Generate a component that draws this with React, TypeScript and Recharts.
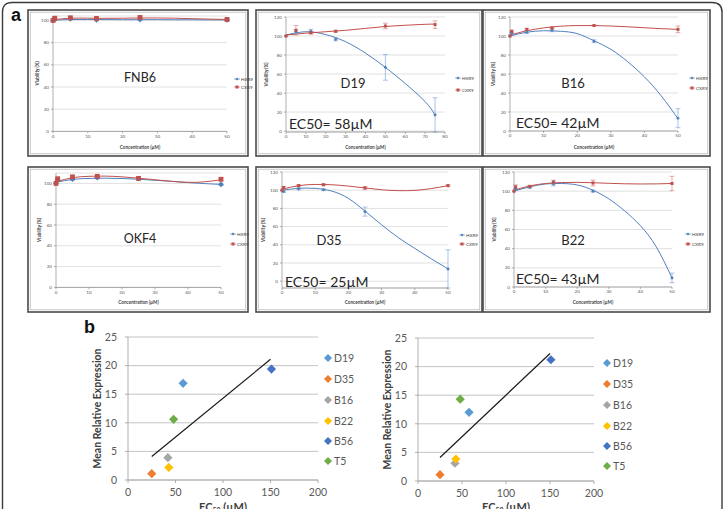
import React from 'react';
import { ComposedChart, Line, XAxis, YAxis, CartesianGrid, ErrorBar, ScatterChart, Scatter } from 'recharts';

// ---------- data: part a (viability %) ----------
const seriesNames = ['HXR9', 'CXR9'];
const concStd = [0, 0.5, 5, 12.5, 25, 50];
const concD19 = [0, 5, 12.5, 25, 50, 75];

// measured points (with error bars)
const fnb6Hxr9 = [100, 100.8, 101.5, 100.6, 100.8, 100.5];
const fnb6Hxr9Err = [0, 0.5, 0.5, 0.5, 0.5, 0.5];
const fnb6Cxr9 = [100, 102, 102.4, 101.8, 102.7, 100.9];
const fnb6Cxr9Err = [0, 0.5, 0.5, 0.5, 0.5, 0.5];

const d19Hxr9 = [100, 104.5, 105, 96.5, 67, 17];
const d19Hxr9Err = [0, 2, 2, 1.5, 13.5, 18];
const d19Cxr9 = [100, 106, 103.5, 105, 110.5, 112];
const d19Cxr9Err = [0, 5, 1.5, 1, 3, 4];

const b16Hxr9 = [100, 103, 104, 106, 94.5, 13.5];
const b16Hxr9Err = [0, 1, 1.5, 1.5, 1.5, 10];
const b16Cxr9 = [100, 105, 107, 108.5, 111, 107];
const b16Cxr9Err = [0, 1, 1, 1, 0.5, 3.5];

const okf4Hxr9 = [100, 103.5, 104, 105.5, 104.5, 99];
const okf4Hxr9Err = [0, 1, 1, 1, 1, 1];
const okf4Cxr9 = [100, 104.5, 106.3, 106.8, 104.8, 104];
const okf4Cxr9Err = [0, 1, 1, 1, 1, 1.5];

const d35Hxr9 = [100, 98.5, 101.5, 100.5, 76.5, 13.5];
const d35Hxr9Err = [0, 1, 1, 1, 5, 21];
const d35Cxr9 = [100, 103, 105, 106, 102.5, 105];
const d35Cxr9Err = [0, 1, 1, 1, 1.5, 1];

const b22Hxr9 = [100, 102, 104, 107.5, 100, 9.5];
const b22Hxr9Err = [0, 1, 1, 2, 1, 5];
const b22Cxr9 = [100, 104.5, 105, 109.5, 108.5, 108];
const b22Cxr9Err = [0, 2, 1, 2, 3, 7.5];

// fitted curves
const curveX50 = [0, 5, 10, 15, 20, 25, 30, 35, 40, 45, 50];
const curveX75 = [0, 10, 20, 30, 40, 50, 60, 70, 75];
const fnb6Hxr9Fit = [100.3, 100.8, 100.9, 100.8, 100.7, 100.7, 100.7, 100.6, 100.6, 100.5, 100.5];
const fnb6Cxr9Fit = [100.6, 102.0, 102.0, 101.9, 102.0, 102.2, 102.2, 102.0, 101.6, 101.2, 100.9];
const d19Hxr9Fit = [101, 104.5, 101.5, 94, 82, 67, 50, 31, 17];
const d19Cxr9Fit = [101, 103, 104.5, 106, 108, 110, 111.3, 112.3, 112.5];
const b16Hxr9Fit = [100, 104, 105.5, 105, 102.5, 95, 86, 73, 57, 37, 13];
const b16Cxr9Fit = [101, 105.5, 108.5, 110.3, 111, 111, 110.5, 109.7, 108.7, 107.7, 107];
const okf4Hxr9Fit = [101, 103.8, 104.8, 105, 104.7, 104, 103, 102, 100.8, 99.8, 99];
const okf4Cxr9Fit = [101.5, 105.5, 106.8, 107, 106.3, 105, 103.5, 102, 101, 101.5, 103.5];
const d35Hxr9Fit = [100, 102, 102, 99, 91, 77, 62, 48, 36, 24.5, 13.5];
const d35Cxr9Fit = [101, 105, 106.3, 106, 104.5, 102.5, 100.5, 99.5, 99.8, 101.8, 105];
const b22Hxr9Fit = [100, 104.5, 107.5, 108, 106.5, 101, 92, 79.5, 64, 42, 9.5];
const b22Cxr9Fit = [101, 105.5, 108, 109, 109.2, 108.8, 108.2, 107.7, 107.5, 107.6, 108];

const tick0to100 = [0, 20, 40, 60, 80, 100];
const tick0to120 = [0, 20, 40, 60, 80, 100, 120];
const tickConc50 = [0, 10, 20, 30, 40, 50];
const tickConc80 = [0, 10, 20, 30, 40, 50, 60, 70, 80];

// ---------- data: part b (mean relative expression vs EC50) ----------
const cellLines = ['D19', 'D35', 'B16', 'B22', 'B56', 'T5'];
const ec50Values = [58, 25, 42, 43, 151, 48];
const exprLeft = [16.9, 1.1, 3.9, 2.2, 19.4, 10.6];
const exprRight = [12.0, 1.1, 3.1, 3.85, 21.2, 14.3];
const trendLeftX = [25, 150];
const trendLeftY = [4.1, 21.1];
const trendRightX = [25, 150];
const trendRightY = [4.1, 22.3];
const ecTicks = [0, 50, 100, 150, 200];
const exprTicks = [0, 5, 10, 15, 20, 25];

// ---------- styles ----------
const FONT = 'Lato, "Open Sans", sans-serif';
const BLUE = '#4F81BD';
const RED = '#C0504D';
const lineColors = ['#5B9BD5', '#ED7D31', '#A5A5A5', '#FFC000', '#4472C4', '#70AD47'];

type Plot = { l: number; t: number; r: number; b: number };
type Box = { l: number; t: number; r: number; b: number };

function frameFor(plot: Plot, yw: number, xh: number, pad = 6, padR = 6) {
  return {
    left: plot.l - yw - pad,
    top: plot.t - pad,
    width: plot.r - plot.l + yw + pad + padR,
    height: plot.b - plot.t + xh + 2 * pad,
    margin: { top: pad, right: padR, bottom: pad, left: pad },
  };
}

type Panel = {
  name: string;
  ec50?: string;
  conc: number[];
  h: number[]; he: number[]; c: number[]; ce: number[];
  fitX: number[]; hFit: number[]; cFit: number[];
  box: Box; plot: Plot;
  xMax: number; xTicks: number[]; yDomain: number[]; yTicks: number[];
  labelPos: number[]; ecPos?: number[]; legendPos: number[]; yTitleX: number; xTitleY: number;
  marker: number; labelSize: number;
};

const panels: Panel[] = [
  { name: 'FNB6', conc: concStd, h: fnb6Hxr9, he: fnb6Hxr9Err, c: fnb6Cxr9, ce: fnb6Cxr9Err,
    fitX: curveX50, hFit: fnb6Hxr9Fit, cFit: fnb6Cxr9Fit,
    box: { l: 28, t: 10, r: 248, b: 156 }, plot: { l: 53, t: 15.6, r: 227, b: 131 },
    xMax: 50, xTicks: tickConc50, yDomain: [0, 104], yTicks: tick0to100,
    labelPos: [140, 77], legendPos: [237, 79, 87], yTitleX: 37, xTitleY: 147, marker: 2.4, labelSize: 12.5 },
  { name: 'D19', ec50: 'EC50= 58µM', conc: concD19, h: d19Hxr9, he: d19Hxr9Err, c: d19Cxr9, ce: d19Cxr9Err,
    fitX: curveX75, hFit: d19Hxr9Fit, cFit: d19Cxr9Fit,
    box: { l: 256, t: 10, r: 482, b: 156 }, plot: { l: 286, t: 17, r: 445, b: 132 },
    xMax: 80, xTicks: tickConc80, yDomain: [0, 120], yTicks: tick0to120,
    labelPos: [353, 83], ecPos: [289, 123], legendPos: [458, 78, 90], yTitleX: 266, xTitleY: 147, marker: 1.5, labelSize: 13 },
  { name: 'B16', ec50: 'EC50= 42µM', conc: concStd, h: b16Hxr9, he: b16Hxr9Err, c: b16Cxr9, ce: b16Cxr9Err,
    fitX: curveX50, hFit: b16Hxr9Fit, cFit: b16Cxr9Fit,
    box: { l: 483, t: 10, r: 710, b: 156 }, plot: { l: 510, t: 17, r: 678, b: 131 },
    xMax: 50, xTicks: tickConc50, yDomain: [0, 120], yTicks: tick0to120,
    labelPos: [573, 83], ecPos: [516, 122], legendPos: [692, 78, 88], yTitleX: 493, xTitleY: 147, marker: 1.5, labelSize: 13 },
  { name: 'OKF4', conc: concStd, h: okf4Hxr9, he: okf4Hxr9Err, c: okf4Cxr9, ce: okf4Cxr9Err,
    fitX: curveX50, hFit: okf4Hxr9Fit, cFit: okf4Cxr9Fit,
    box: { l: 28, t: 167, r: 248, b: 312 }, plot: { l: 56, t: 172.6, r: 221, b: 287 },
    xMax: 50, xTicks: tickConc50, yDomain: [0, 110], yTicks: tick0to100,
    labelPos: [140, 238], legendPos: [233, 234, 244], yTitleX: 39, xTitleY: 302, marker: 2.4, labelSize: 12.5 },
  { name: 'D35', ec50: 'EC50= 25µM', conc: concStd, h: d35Hxr9, he: d35Hxr9Err, c: d35Cxr9, ce: d35Cxr9Err,
    fitX: curveX50, hFit: d35Hxr9Fit, cFit: d35Cxr9Fit,
    box: { l: 256, t: 167, r: 482, b: 312 }, plot: { l: 282, t: 172, r: 448, b: 288 },
    xMax: 50, xTicks: tickConc50, yDomain: [0, 120], yTicks: tick0to120,
    labelPos: [329, 240], ecPos: [285, 281], legendPos: [462, 235, 244], yTitleX: 263, xTitleY: 302, marker: 1.5, labelSize: 13 },
  { name: 'B22', ec50: 'EC50= 43µM', conc: concStd, h: b22Hxr9, he: b22Hxr9Err, c: b22Cxr9, ce: b22Cxr9Err,
    fitX: curveX50, hFit: b22Hxr9Fit, cFit: b22Cxr9Fit,
    box: { l: 483, t: 167, r: 710, b: 312 }, plot: { l: 514, t: 172, r: 672, b: 287 },
    xMax: 50, xTicks: tickConc50, yDomain: [0, 120], yTicks: tick0to120,
    labelPos: [573, 240], ecPos: [516, 278], legendPos: [688, 234, 244], yTitleX: 494, xTitleY: 302, marker: 1.5, labelSize: 13 },
];

type ExprPanel = {
  expr: number[]; trendX: number[]; trendY: number[];
  plot: Plot; legendX: number; legendY: number[]; yTitleX: number; xTitleY: number;
};

const exprPanels: ExprPanel[] = [
  { expr: exprLeft, trendX: trendLeftX, trendY: trendLeftY, plot: { l: 128, t: 337, r: 318, b: 480 },
    legendX: 328, legendY: [358, 379, 400, 421, 441, 461], yTitleX: 97, xTitleY: 511 },
  { expr: exprRight, trendX: trendRightX, trendY: trendRightY, plot: { l: 418, t: 338, r: 594, b: 481 },
    legendX: 607, legendY: [363, 384, 405, 426, 446, 466], yTitleX: 387, xTitleY: 511 },
];

function diamondPath(cx: number, cy: number, s: number) {
  return `M${cx},${cy - s}L${cx + s},${cy}L${cx},${cy + s}L${cx - s},${cy}Z`;
}

function ViabilityChart({ p }: { p: Panel }) {
  const points = p.conc.map((x, i) => ({ x, h: p.h[i], he: p.he[i], c: p.c[i], ce: p.ce[i] }));
  const fit = p.fitX.map((x, i) => ({ x, hf: p.hFit[i], cf: p.cFit[i] }));
  const yw = 14;
  const xh = 10;
  const f = frameFor(p.plot, yw, xh);
  const tickStyle = { fontSize: 4.6, fill: '#595959', fontFamily: FONT };
  const axisStroke = { stroke: '#8c8c8c', strokeWidth: 0.7 };
  const s = p.marker;
  return (
    <div style={{ position: 'absolute', left: f.left, top: f.top }}>
      <ComposedChart width={f.width} height={f.height} margin={f.margin}>
        <CartesianGrid vertical={false} stroke="#d4d4d4" strokeWidth={0.7} />
        <XAxis type="number" dataKey="x" domain={[0, p.xMax]} ticks={p.xTicks} interval={0} height={xh}
          tickSize={2} tickMargin={1} tick={tickStyle} axisLine={axisStroke} tickLine={axisStroke} />
        <YAxis type="number" domain={p.yDomain} ticks={p.yTicks} interval={0} width={yw}
          tickSize={2} tickMargin={2} tick={tickStyle} axisLine={axisStroke} tickLine={axisStroke} />
        <Line data={fit} dataKey="hf" type="natural" stroke={BLUE} strokeWidth={1} dot={false} isAnimationActive={false} />
        <Line data={fit} dataKey="cf" type="natural" stroke={RED} strokeWidth={1} dot={false} isAnimationActive={false} />
        <Line data={points} dataKey="h" stroke="none" isAnimationActive={false}
          dot={(d: any) => <path key={d.key} d={diamondPath(d.cx, d.cy, s * 1.2)} fill={BLUE} />}>
          <ErrorBar dataKey="he" direction="y" width={2.4} stroke="#6f9bd8" strokeWidth={0.6} />
        </Line>
        <Line data={points} dataKey="c" stroke="none" isAnimationActive={false}
          dot={(d: any) => <rect key={d.key} x={d.cx - s} y={d.cy - s} width={2 * s} height={2 * s} fill={RED} />}>
          <ErrorBar dataKey="ce" direction="y" width={2.4} stroke="#d07472" strokeWidth={0.6} />
        </Line>
      </ComposedChart>
    </div>
  );
}

function ExpressionChart({ p }: { p: ExprPanel }) {
  const yw = 30;
  const xh = 22;
  const f = frameFor(p.plot, yw, xh, 6, 16);
  const tickStyle = { fontSize: 10.5, fill: '#595959', fontFamily: FONT };
  const axisStroke = { stroke: '#a6a6a6', strokeWidth: 0.9 };
  const trend = p.trendX.map((x, i) => ({ x, y: p.trendY[i] }));
  return (
    <div style={{ position: 'absolute', left: f.left, top: f.top }}>
      <ScatterChart width={f.width} height={f.height} margin={f.margin}>
        <CartesianGrid vertical={false} stroke="#bdbdbd" strokeWidth={0.9} />
        <XAxis type="number" dataKey="x" domain={[0, 200]} ticks={ecTicks} interval={0} height={xh}
          tickSize={3} tickMargin={6} tick={tickStyle} axisLine={axisStroke} tickLine={axisStroke} />
        <YAxis type="number" dataKey="y" domain={[0, 25]} ticks={exprTicks} interval={0} width={yw}
          tickSize={3} tickMargin={8} tick={tickStyle} axisLine={axisStroke} tickLine={axisStroke} />
        {cellLines.map((name, i) => (
          <Scatter key={name} name={name} data={[{ x: ec50Values[i], y: p.expr[i] }]} fill={lineColors[i]}
            isAnimationActive={false}
            shape={(d: any) => <path d={diamondPath(d.cx, d.cy, 4.6)} fill={lineColors[i]} />} />
        ))}
        <Scatter name="trend" data={trend} line={{ stroke: '#1a1a1a', strokeWidth: 1.2 }} isAnimationActive={false}
          shape={() => <g />} />
      </ScatterChart>
    </div>
  );
}

function Overlay() {
  const small = { fontSize: 4.6, fill: '#404040', fontFamily: FONT };
  return (
    <svg width={727} height={509} style={{ position: 'absolute', left: 0, top: 0, zIndex: 2, pointerEvents: 'none' }}>
      <path d="M2.5,520 L2.5,12 Q2.5,2.5 12,2.5 L712,2.5 Q722,2.5 722,12 L722,520" fill="none" stroke="#3a3a3a" strokeWidth={1.4} />
      <text x={11} y={21} fontSize={18} fontWeight="bold" fontFamily="Liberation Sans, Arial, sans-serif" fill="#111">a</text>
      <text x={84} y={333} fontSize={18} fontWeight="bold" fontFamily="Liberation Sans, Arial, sans-serif" fill="#111">b</text>
      {panels.map((p) => {
        const cy = (p.plot.t + p.plot.b) / 2;
        const cx = (p.plot.l + p.plot.r) / 2;
        const [lx, ly1, ly2] = p.legendPos;
        return (
          <g key={p.name}>
            <rect x={p.box.l} y={p.box.t} width={p.box.r - p.box.l} height={p.box.b - p.box.t} fill="none" stroke="#4a4a4a" strokeWidth={1.6} />
            <rect x={p.box.l + 2.2} y={p.box.t + 2.2} width={p.box.r - p.box.l - 4.4} height={p.box.b - p.box.t - 4.4} fill="none" stroke="#b0b0b0" strokeWidth={0.7} />
            <text x={p.labelPos[0]} y={p.labelPos[1]} textAnchor="middle" dominantBaseline="central" fontSize={p.labelSize} fontFamily={FONT} fill="#262626">{p.name}</text>
            {p.ec50 && p.ecPos && (
              <text x={p.ecPos[0]} y={p.ecPos[1]} dominantBaseline="central" fontSize={14} fontFamily={FONT} fill="#262626">{p.ec50}</text>
            )}
            <text transform={`translate(${p.yTitleX},${cy}) rotate(-90)`} textAnchor="middle" dominantBaseline="central" {...small} fontWeight="bold">Viability (%)</text>
            <text x={cx} y={p.xTitleY} textAnchor="middle" dominantBaseline="central" {...small} fontWeight="bold">Concentration (µM)</text>
            <path d={diamondPath(lx, ly1, 1.6)} fill={BLUE} />
            <line x1={lx - 3} x2={lx + 3} y1={ly1} y2={ly1} stroke={BLUE} strokeWidth={0.6} />
            <text x={lx + 4} y={ly1} dominantBaseline="central" {...small}>{seriesNames[0]}</text>
            <rect x={lx - 1.5} y={ly2 - 1.5} width={3} height={3} fill={RED} />
            <line x1={lx - 3} x2={lx + 3} y1={ly2} y2={ly2} stroke={RED} strokeWidth={0.6} />
            <text x={lx + 4} y={ly2} dominantBaseline="central" {...small}>{seriesNames[1]}</text>
          </g>
        );
      })}
      {exprPanels.map((p, k) => {
        const cy = (p.plot.t + p.plot.b) / 2;
        const cx = (p.plot.l + p.plot.r) / 2;
        return (
          <g key={k}>
            <text transform={`translate(${p.yTitleX},${cy}) rotate(-90)`} textAnchor="middle" dominantBaseline="central" fontSize={10.5} fontWeight="bold" fontFamily={FONT} fill="#404040">Mean Relative Expression</text>
            <text x={cx} y={p.xTitleY} textAnchor="middle" fontSize={11} fontWeight="bold" fontFamily={FONT} fill="#404040">EC<tspan fontSize={7} dy={2}>50</tspan><tspan dy={-2}> (µM)</tspan></text>
            {cellLines.map((name, i) => (
              <g key={name}>
                <path d={diamondPath(p.legendX, p.legendY[i], 4)} fill={lineColors[i]} />
                <text x={p.legendX + 6} y={p.legendY[i]} dominantBaseline="central" fontSize={10.5} fontFamily={FONT} fill="#595959">{name}</text>
              </g>
            ))}
          </g>
        );
      })}
    </svg>
  );
}

export default function App() {
  return (
    <div style={{ position: 'absolute', left: 0, top: 0, width: 727, height: 509, background: '#fff', overflow: 'hidden', fontFamily: FONT }}>
      {panels.map((p) => <ViabilityChart key={p.name} p={p} />)}
      {exprPanels.map((p, k) => <ExpressionChart key={k} p={p} />)}
      <Overlay />
    </div>
  );
}
